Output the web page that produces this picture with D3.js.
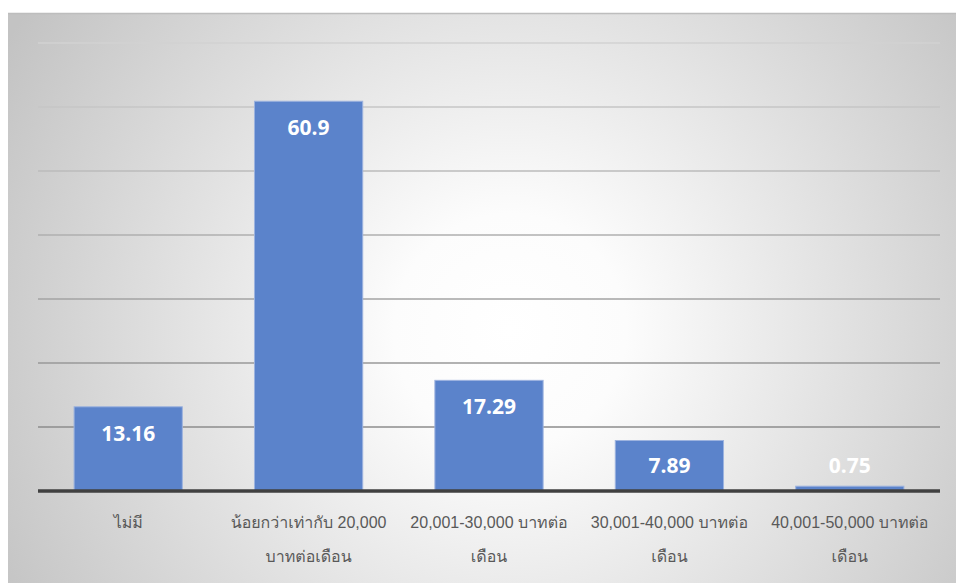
<!DOCTYPE html>
<html>
<head>
<meta charset="utf-8">
<script src="https://cdn.jsdelivr.net/npm/d3@7"></script>
<style>
  html, body { margin: 0; padding: 0; background: #ffffff; }
  svg { display: block; }
</style>
</head>
<body>
<svg id="chart" width="956" height="583"></svg>
<script>
// Household income categories (Thai) and their share in percent
const categories = [
  "ไม่มี",
  "น้อยกว่าเท่ากับ 20,000\nบาทต่อเดือน",
  "20,001-30,000 บาทต่อ\nเดือน",
  "30,001-40,000 บาทต่อ\nเดือน",
  "40,001-50,000 บาทต่อ\nเดือน"
];
const values = [13.16, 60.9, 17.29, 7.89, 0.75];
const valueLabels = ["13.16", "60.9", "17.29", "7.89", "0.75"];
const gridTicks = [0, 10, 20, 30, 40, 50, 60, 70];

const W = 956, H = 583;
const plot = { left: 38, right: 940, top: 43, bottom: 491 };

const svg = d3.select("#chart");
const defs = svg.append("defs");

// soft radial backdrop: white centre fading to grey edges
const rg = defs.append("radialGradient")
  .attr("id", "bg")
  .attr("gradientUnits", "userSpaceOnUse")
  .attr("cx", 510).attr("cy", 330).attr("r", 580);
rg.append("stop").attr("offset", 0).attr("stop-color", "#ffffff");
rg.append("stop").attr("offset", 0.2).attr("stop-color", "#fcfcfc");
rg.append("stop").attr("offset", 1).attr("stop-color", "#c3c3c3");

svg.append("rect").attr("x", 0).attr("y", 0).attr("width", W).attr("height", H).attr("fill", "#ffffff");
svg.append("rect")
  .attr("x", 8).attr("y", 13).attr("width", W - 8).attr("height", H - 13)
  .attr("fill", "url(#bg)");
svg.append("line")
  .attr("x1", 8).attr("x2", W).attr("y1", 13.5).attr("y2", 13.5)
  .attr("stroke", "#bdbdbd").attr("stroke-width", 1.5);

const x = d3.scaleBand()
  .domain(categories)
  .range([plot.left, plot.right])
  .paddingInner(0.4)
  .paddingOuter(0.2);

const y = d3.scaleLinear()
  .domain([0, 70])
  .range([plot.bottom, plot.top]);

// horizontal gridlines, darkening toward the baseline
const gridColor = d3.scaleLinear().domain([70, 10]).range(["#d2d2d2", "#8c8c8c"]);
svg.append("g")
  .selectAll("line")
  .data(gridTicks.filter(t => t > 0))
  .join("line")
  .attr("x1", plot.left).attr("x2", plot.right)
  .attr("y1", d => y(d)).attr("y2", d => y(d))
  .attr("stroke", d => gridColor(d))
  .attr("stroke-width", 1.5);

// bars
svg.append("g")
  .selectAll("rect")
  .data(values)
  .join("rect")
  .attr("x", (d, i) => x(categories[i]))
  .attr("y", d => y(d))
  .attr("width", x.bandwidth())
  .attr("height", d => y(0) - y(d))
  .attr("fill", "#5b83cb")
  .attr("stroke", "#9db3df")
  .attr("stroke-width", 1);

// baseline axis
svg.append("line")
  .attr("x1", plot.left).attr("x2", plot.right)
  .attr("y1", y(0)).attr("y2", y(0))
  .attr("stroke", "#404040").attr("stroke-width", 3.5);

// value labels, inside the bar top (kept above baseline for short bars)
svg.append("g")
  .selectAll("text")
  .data(values)
  .join("text")
  .attr("x", (d, i) => x(categories[i]) + x.bandwidth() / 2)
  .attr("y", d => Math.min(y(d) + 34, y(0) - 18))
  .attr("text-anchor", "middle")
  .attr("font-family", "'Open Sans', 'Noto Sans', sans-serif")
  .attr("font-weight", 700)
  .attr("font-size", 21)
  .attr("fill", "#ffffff")
  .text((d, i) => valueLabels[i]);

// category axis
const xAxis = d3.axisBottom(x).tickSize(0).tickPadding(0);
const gx = svg.append("g")
  .attr("transform", `translate(0,${y(0)})`)
  .call(xAxis);
gx.select(".domain").remove();
gx.selectAll(".tick text").each(function(d) {
  const t = d3.select(this);
  t.text(null)
    .attr("y", 0)
    .attr("dy", null)
    .attr("fill", "#595959")
    .attr("font-size", 16)
    .attr("font-family", "'Liberation Sans', Arial, 'Loma', 'Garuda', 'Tlwg Typo', 'Noto Sans Thai Looped', 'Noto Sans Thai', sans-serif");
  d.split("\n").forEach((line, k) => {
    t.append("tspan")
      .attr("x", 0)
      .attr("y", 37 + k * 34)
      .text(line);
  });
});
</script>
</body>
</html>
